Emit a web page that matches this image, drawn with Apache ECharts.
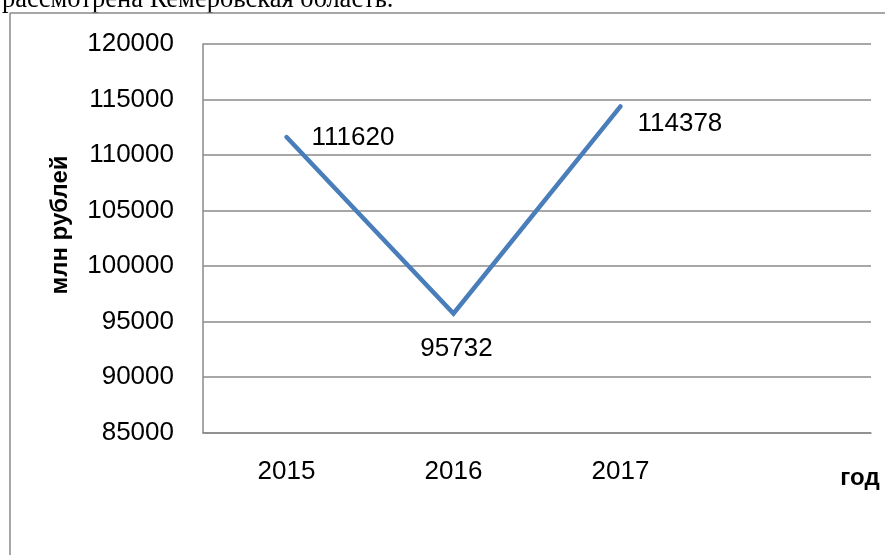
<!DOCTYPE html>
<html>
<head>
<meta charset="utf-8">
<script src="https://cdn.jsdelivr.net/npm/echarts@6/dist/echarts.min.js"></script>
<style>
  html, body { margin: 0; padding: 0; background: #ffffff; }
  #chart { width: 885px; height: 555px; }
</style>
</head>
<body>
<div id="chart"></div>
<script>
// Years on the category axis (the last slot is left empty)
const years = ['2015', '2016', '2017', ''];
// Values, million rubles
const values = [111620, 95732, 114378, null];
// Value axis range
const yMin = 85000;
const yMax = 120000;
const yStep = 5000;

const gridColor = '#8a8a8a';
const lineColor = '#4a7ebb';
const sans = '"Liberation Sans", Arial, sans-serif';

// Label anchor relative to each point's marker box, and its alignment
const labelSetup = [
  { pos: [26, 2], align: 'left' },
  { pos: [4, 36], align: 'center' },
  { pos: [18, 18], align: 'left' }
];

const seriesData = values.map((v, i) => {
  if (v === null) return '-';
  const s = labelSetup[i];
  return {
    value: v,
    label: { show: true, position: s.pos, align: s.align, verticalAlign: 'middle' }
  };
});

const chart = echarts.init(document.getElementById('chart'), null, { renderer: 'canvas' });

chart.setOption({
  animation: false,
  backgroundColor: '#ffffff',
  grid: { left: 203, right: 14, top: 44, bottom: 122.3, containLabel: false },
  xAxis: {
    type: 'category',
    data: years,
    boundaryGap: true,
    axisLine: { show: true, lineStyle: { color: gridColor, width: 1.5 } },
    axisTick: { show: false },
    axisLabel: { color: '#000', fontFamily: sans, fontSize: 26, margin: 26 }
  },
  yAxis: {
    type: 'value',
    min: yMin,
    max: yMax,
    interval: yStep,
    axisLine: { show: true, lineStyle: { color: gridColor, width: 1.5 } },
    axisTick: { show: false },
    axisLabel: { color: '#000', fontFamily: sans, fontSize: 26, margin: 29,
                 formatter: (v) => String(v) },
    splitLine: { show: true, lineStyle: { color: gridColor, width: 1.5 } }
  },
  series: [{
    type: 'line',
    data: seriesData,
    showSymbol: true,
    symbol: 'circle',
    symbolSize: 2,
    itemStyle: { color: lineColor },
    lineStyle: { color: lineColor, width: 4.5, cap: 'round', join: 'miter' },
    label: { show: true, color: '#000', fontFamily: sans, fontSize: 26 },
    labelLayout: { hideOverlap: false },
    emphasis: { disabled: true },
    z: 3
  }],
  graphic: [
    // text line above the chart frame
    {
      type: 'text', left: 2, top: -13,
      style: { text: 'рассмотрена Кемеровская область.', fill: '#000',
               font: '26.5px "Liberation Serif", "Times New Roman", serif' }
    },
    // chart frame
    { type: 'line', shape: { x1: 10, y1: 13, x2: 885, y2: 13 },
      style: { stroke: gridColor, lineWidth: 1.5 } },
    { type: 'line', shape: { x1: 10, y1: 13, x2: 10, y2: 555 },
      style: { stroke: gridColor, lineWidth: 1.5 } },
    // value axis title
    {
      type: 'text', x: 60, y: 225, rotation: Math.PI / 2,
      style: { text: 'млн рублей', fill: '#000', align: 'center', verticalAlign: 'middle',
               font: 'bold 24px "Liberation Sans", Arial, sans-serif' }
    },
    // category axis title
    {
      type: 'text', x: 860, y: 478,
      style: { text: 'год', fill: '#000', align: 'center', verticalAlign: 'middle',
               font: 'bold 24px "Liberation Sans", Arial, sans-serif' }
    }
  ]
});
</script>
</body>
</html>
